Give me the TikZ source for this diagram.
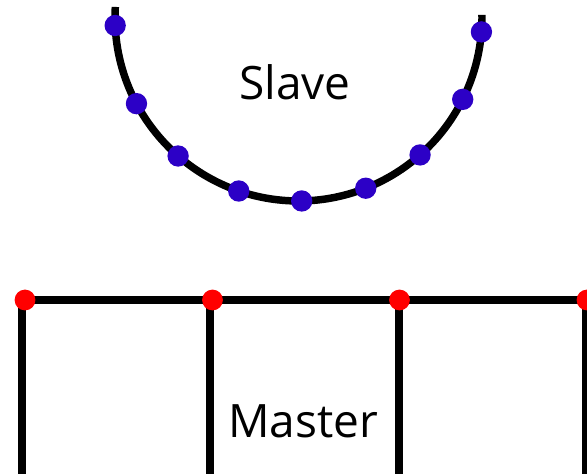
\documentclass[tikz,border=0pt]{standalone}
\usepackage{fontspec}
\setmainfont{Open Sans}
\usepackage{tikz}
\usetikzlibrary{calc}
\definecolor{sblue}{HTML}{2C00C6}
\definecolor{mred}{HTML}{FF0000}

\begin{document}
\begin{tikzpicture}[x=0.75pt, y=-0.75pt, line width=5.6pt]
 \clip (0,0) rectangle (587,474);
 % slave surface
 \coordinate (c) at (298.5,17.5);
 \draw ($(c)+(183.3:183.5)$) arc[start angle=183.3, end angle=-0.8, radius=183.5];
 \foreach \a in {177.5,152,131,109,89,68.5,48.5,26.5,4.5} \fill[sblue] ($(c)+(\a:183.5)$) circle (8pt);
 \node[anchor=base, font=\fontsize{34.5}{40}\selectfont, inner sep=0pt] (slave) at (295,100) {Slave};
 % master grid
 \draw (22,300) -- (600,300);
 \foreach \x in {22,210,399,586} \draw (\x,300) -- (\x,490);
 \foreach \x in {25,212.5,399.5,587} \fill[mred] (\x,300) circle (7.8pt);
 \node[anchor=base, font=\fontsize{34.5}{40}\selectfont, inner sep=0pt] (master) at (303,438) {Master};
\end{tikzpicture}
\end{document}
